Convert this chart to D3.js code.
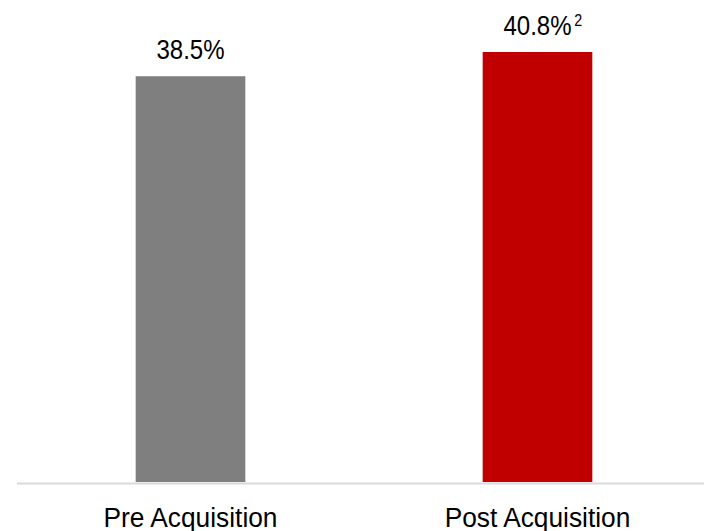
<!DOCTYPE html>
<html>
<head>
<meta charset="utf-8">
<script src="https://cdn.jsdelivr.net/npm/d3@7"></script>
<style>
  html, body { margin: 0; padding: 0; background: #fff; }
  svg { display: block; font-family: "Liberation Sans", Arial, Helvetica, sans-serif; }
</style>
</head>
<body>
<svg id="chart" width="704" height="531"></svg>
<script>
// Margin before and after the acquisition
const categories = ["Pre Acquisition", "Post Acquisition"];
const values = [38.5, 40.8];
const valueLabels = ["38.5%", "40.8%"];
const footnotes = ["", "2"];
const colors = ["#7f7f7f", "#c00000"];

const svg = d3.select("#chart");
const W = 704;
const baseY = 482;
const textSX = 0.89;   // slightly condensed lettering

const x = d3.scaleBand()
  .domain(categories)
  .range([17, 711])
  .paddingInner(0.684)
  .paddingOuter(0.342);

const y = d3.scaleLinear()
  .domain([0, 40.8])
  .range([baseY, 52]);

// bars
svg.selectAll("rect.bar")
  .data(categories)
  .join("rect")
  .attr("class", "bar")
  .attr("x", d => x(d))
  .attr("width", x.bandwidth())
  .attr("y", (d, i) => y(values[i]))
  .attr("height", (d, i) => y(0) - y(values[i]))
  .attr("fill", (d, i) => colors[i]);

// baseline
svg.append("line")
  .attr("x1", 17).attr("x2", W)
  .attr("y1", baseY + 1.5).attr("y2", baseY + 1.5)
  .attr("stroke", "#d9d9d9")
  .attr("stroke-width", 2);

// value labels, each with an optional superscript footnote
const labels = svg.selectAll("g.value")
  .data(categories)
  .join("g")
  .attr("class", "value")
  .attr("transform", (d, i) =>
    `translate(${x(d) + x.bandwidth() / 2},${y(values[i]) - 17}) scale(${textSX},1)`);

labels.append("text")
  .attr("class", "main")
  .attr("text-anchor", "middle")
  .attr("font-size", 27)
  .attr("fill", "#000")
  .text((d, i) => valueLabels[i]);

labels.each(function (d, i) {
  if (!footnotes[i]) return;
  const g = d3.select(this);
  const w = g.select("text.main").node().getComputedTextLength();
  g.append("text")
    .attr("x", w / 2 + 3)
    .attr("y", -9)
    .attr("font-size", 16)
    .attr("fill", "#000")
    .text(footnotes[i]);
});

// category axis labels
const axis = d3.axisBottom(x).tickSize(0).tickPadding(0);
const g = svg.append("g")
  .attr("transform", `translate(0,${baseY})`)
  .call(axis);
g.select(".domain").remove();
g.selectAll(".tick text")
  .attr("y", 0)
  .attr("dy", 0)
  .attr("transform", `translate(0,45) scale(0.94,1)`)
  .attr("font-size", 28)
  .attr("font-family", "\"Liberation Sans\", Arial, sans-serif")
  .attr("fill", "#000");
</script>
</body>
</html>
